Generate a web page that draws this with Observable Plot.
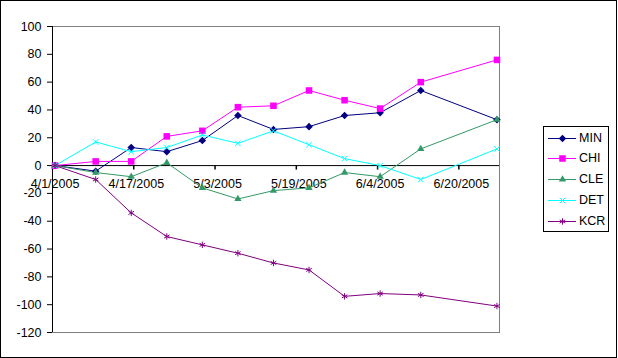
<!DOCTYPE html>
<html><head><meta charset="utf-8">
<script src="https://cdn.jsdelivr.net/npm/d3@7"></script>
<script src="https://cdn.jsdelivr.net/npm/@observablehq/plot@0.6"></script>
<style>
body{margin:0;background:#fff;}
#wrap{position:relative;width:618px;height:358px;font-family:Arial,"Liberation Sans",sans-serif;overflow:hidden;}
#border{position:absolute;left:0;top:0;width:617px;height:358px;box-sizing:border-box;border:1px solid #000;pointer-events:none;}
#legend{position:absolute;left:543px;top:126px;width:66px;height:106px;box-sizing:border-box;border:1px solid #000;background:#fff;}
.lrow{position:absolute;left:0;height:20px;width:64px;}
.lrow svg{position:absolute;left:0;top:0;}
.lrow span{position:absolute;left:35px;top:2px;font-size:12.5px;line-height:16px;color:#000;}
</style></head><body><div id="wrap"></div>
<script>
// ---- data ----
const dates = ["2005-04-01","2005-04-09","2005-04-16","2005-04-23","2005-04-30","2005-05-07","2005-05-14","2005-05-21","2005-05-28","2005-06-04","2005-06-12","2005-06-27"];
const MIN = [0,-4,13,10,18,36,26,28,36,38,54,33];
const CHI = [0,3,3,21,25,42,43,54,47,41,60,76];
const CLE = [0,-5,-8,2,-16,-24,-18,-16,-5,-8,12,33];
const DET = [0,17,10,13,22,16,25,15,5,0,-10,12];
const KCR = [0,-10,-34,-51,-57,-63,-70,-75,-94,-92,-93,-101];
const seriesNames = ["MIN","CHI","CLE","DET","KCR"];
const xTickLabels = ["4/1/2005","4/17/2005","5/3/2005","5/19/2005","6/4/2005","6/20/2005"];
const xExtent = ["2005-04-01","2005-06-28"];
const yTicks = [-120,-100,-80,-60,-40,-20,0,20,40,60,80,100];

// ---- styles ----
const colors = ["#000080","#FF00FF","#339966","#00FFFF","#800080"];
const symbols = ["diamond2","square","triangle","times","asterisk"];
const symR = [3.4,3.7,2.7,2.6,3.0];
const filled = [true,true,true,false,false];

const parseISO = d3.utcParse("%Y-%m-%d");
const parseUS = d3.utcParse("%m/%d/%Y");
const halfDay = 12*3600e3;
const valuesBy = {MIN, CHI, CLE, DET, KCR};
const rows = [];
seriesNames.forEach(s => dates.forEach((d,i) => rows.push({series:s, date: new Date(+parseISO(d)+halfDay), value: valuesBy[s][i]})));
const tickDates = xTickLabels.map(parseUS);
const tickMark = {draw(ctx){ ctx.moveTo(0,0); ctx.lineTo(0,4); }};

const marks = [
  Plot.frame({stroke:"#808080"}),
  Plot.ruleY([0], {stroke:"black"}),
  Plot.ruleX([parseISO(xExtent[0])], {stroke:"black"}),
  Plot.dot(tickDates, {x: d => d, y: () => 0, symbol: tickMark, stroke:"black", fill:"none", r: 2}),
  Plot.text(tickDates, {x: d => new Date(+d+halfDay), y: () => 0, text: (d,i) => xTickLabels[i], dy: 18.5, fill:"black"}),
  Plot.axisY({ticks: yTicks, tickSize: 5, tickPadding: 6, tickFormat: d => String(d), label: null}),
  Plot.line(rows, {x:"date", y:"value", z:"series", stroke:"series", strokeWidth:1})
];
seriesNames.forEach((s,k) => {
  const sub = rows.filter(r => r.series === s);
  if (filled[k]) marks.push(Plot.dot(sub, {x:"date", y:"value", symbol: () => symbols[k], fill: colors[k], stroke:"none", r: symR[k]}));
  else marks.push(Plot.dot(sub, {x:"date", y:"value", symbol: () => symbols[k], fill:"none", stroke: colors[k], strokeWidth: 1, r: symR[k]}));
});

const chart = Plot.plot({
  width: 618, height: 358,
  marginLeft: 52, marginRight: 119, marginTop: 26, marginBottom: 26,
  style: {fontFamily: "Arial, 'Liberation Sans', sans-serif", fontSize: "12.5px", color: "black", background: "white", overflow: "visible"},
  x: {type: "utc", domain: xExtent.map(parseISO), axis: null, label: null},
  y: {domain: [-120, 100], label: null},
  color: {domain: seriesNames, range: colors},
  symbol: {domain: symbols, range: symbols},
  marks
});
const wrap = document.getElementById("wrap");
wrap.appendChild(chart);

// legend
const leg = document.createElement("div");
leg.id = "legend";
seriesNames.forEach((s,k) => {
  const row = document.createElement("div");
  row.className = "lrow";
  row.style.top = (0.5 + k*20.8) + "px";
  const sym = {diamond2: d3.symbolDiamond2, square: d3.symbolSquare, triangle: d3.symbolTriangle, times: d3.symbolTimes, asterisk: d3.symbolAsterisk}[symbols[k]];
  const path = d3.symbol(sym, symR[k]*symR[k]*Math.PI)();
  const f = filled[k] ? `fill="${colors[k]}" stroke="none"` : `fill="none" stroke="${colors[k]}"`;
  row.innerHTML = `<svg width="36" height="20"><line x1="4" x2="32" y1="10.5" y2="10.5" stroke="${colors[k]}" stroke-width="1"/><path transform="translate(18.5,10.5)" d="${path}" ${f}/></svg><span>${s}</span>`;
  leg.appendChild(row);
});
wrap.appendChild(leg);
const b = document.createElement("div"); b.id = "border"; wrap.appendChild(b);
</script>
</body></html>
